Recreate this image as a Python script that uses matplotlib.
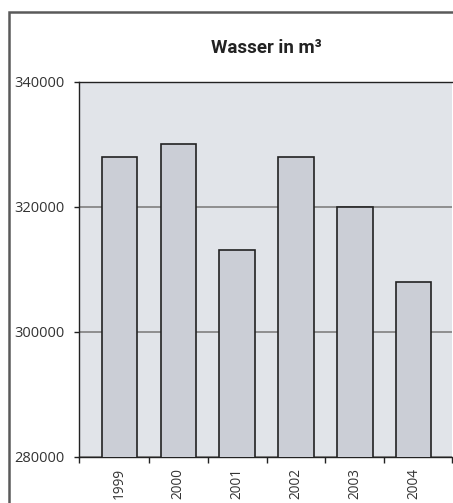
import numpy as np
import matplotlib.pyplot as plt
from matplotlib.patches import Rectangle

years = ['1999', '2000', '2001', '2002', '2003', '2004']
wasser = [328000, 330000, 313000, 328000, 320000, 308000]
yticks = [280000, 300000, 320000, 340000]

plt.rcParams['font.family'] = ['Open Sans', 'DejaVu Sans']

fig = plt.figure(figsize=(4.53, 5.03), dpi=100)
ax = fig.add_axes([0.175, 0.092, 0.823, 0.7456])

x = np.arange(len(years))
ax.bar(x, wasser, width=0.6, color='#cbced6', edgecolor='#222222', linewidth=1.2, zorder=3)

ax.set_facecolor('#e1e4e9')
ax.set_ylim(280000, 340000)
ax.set_xlim(-0.68, 5.65)
ax.set_yticks(yticks)
ax.set_yticklabels([str(v) for v in yticks])
ax.yaxis.grid(True, color='#808080', linewidth=1.2, zorder=1)

# ticks on category boundaries, labels at bar centres
ax.set_xticks([-0.68, 0.5, 1.5, 2.5, 3.5, 4.5, 5.65])
ax.set_xticklabels([])
ax.set_xticks(x, minor=True)
ax.set_xticklabels(years, minor=True, rotation=90)
ax.tick_params(axis='x', which='major', length=4.5, width=1, color='#222222', direction='out')
ax.tick_params(axis='x', which='minor', length=0, pad=8, labelsize=9.8, labelcolor='#333333')
ax.tick_params(axis='y', length=3.5, width=1, color='#222222', pad=7, labelsize=10.5, labelcolor='#333333')

for s in ['left', 'bottom', 'top']:
    ax.spines[s].set_color('#222222')
    ax.spines[s].set_linewidth(1)
ax.spines['right'].set_visible(False)

fig.text(0.589, 0.904, 'Wasser in m³', ha='center', va='center', fontsize=13.5,
         fontweight='bold', color='#222222', family=['Roboto', 'DejaVu Sans'])

# outer frame (cut off at right and bottom)
fig.patches.append(Rectangle((9.3 / 453, -0.1), 1.2, 1.1 - 12 / 503, transform=fig.transFigure,
                             fill=False, edgecolor='#5a5a5a', linewidth=1.8, figure=fig))

fig.savefig('out.png', dpi=100)
